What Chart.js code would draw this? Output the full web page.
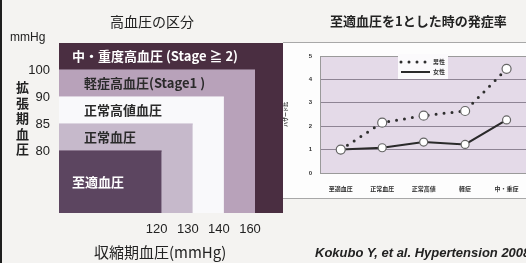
<!DOCTYPE html>
<html>
<head>
<meta charset="utf-8">
<script src="https://cdn.jsdelivr.net/npm/chart.js@4.4.0/dist/chart.umd.min.js"></script>
<style>
html, body { margin: 0; padding: 0; width: 526px; height: 263px; overflow: hidden; background: #f4f3f1; }
body { position: relative; font-family: "Noto Sans CJK JP", "Liberation Sans", sans-serif; color: #222; }
#edge { position: absolute; left: 0; top: 0; width: 2px; height: 263px; background: #1e1e1e; }
#bpChart { position: absolute; left: 0; top: 0; }
#panel { position: absolute; left: 283px; top: 42px; width: 260px; height: 155px; background: #fdfdfd; border-top: 1px solid #a8a8a8; border-bottom: 1px solid #a8a8a8; }
#riskChart { position: absolute; left: 283px; top: 42px; }
.t { position: absolute; white-space: nowrap; line-height: 1; }
#leftTitle { left: 110px; top: 14px; font-size: 14px; }
#rightTitle { left: 330px; top: 14px; font-size: 13px; font-weight: bold; }
#unit { left: 10px; top: 31px; font-size: 12px; font-family: "Liberation Sans", sans-serif; }
#yTitle { left: 16px; top: 79px; width: 14px; font-size: 13px; font-weight: bold; line-height: 15.5px; white-space: normal; }
#xTitle { left: 94px; top: 244px; font-size: 15px; }
#cite { left: 315px; top: 246px; font-size: 13px; font-weight: bold; font-style: italic; font-family: "Liberation Sans", sans-serif; }
</style>
</head>
<body>
<div id="edge"></div>
<canvas id="bpChart" width="283" height="263"></canvas>
<div id="panel"></div>
<canvas id="riskChart" width="250" height="156"></canvas>
<div class="t" id="leftTitle">高血圧の区分</div>
<div class="t" id="rightTitle">至適血圧を1とした時の発症率</div>
<div class="t" id="unit">mmHg</div>
<div class="t" id="yTitle">拡張期血圧</div>
<div class="t" id="xTitle">収縮期血圧(mmHg)</div>
<div class="t" id="cite">Kokubo Y, et al. Hypertension 2008</div>
<script>
// Left diagram: blood pressure classes
const sbpTicks = [120, 130, 140, 160];
const dbpTicks = [80, 85, 90, 100];
const bandNames = ['至適血圧', '正常血圧', '正常高値血圧', '軽症高血圧(Stage1 )', '中・重度高血圧 (Stage ≧ 2)'];

// Right chart: relative incidence (optimal = 1)
const categories = ['至適血圧', '正常血圧', '正常高値', '軽症', '中・重症'];
const maleRisk = [1.0, 2.15, 2.45, 2.65, 4.45];
const femaleRisk = [1.0, 1.08, 1.32, 1.22, 2.27];
const seriesNames = ['男性', '女性'];

Chart.defaults.font.family = "'Liberation Sans', 'Noto Sans CJK JP', sans-serif";
Chart.defaults.color = '#222';
Chart.defaults.animation = false;

const bandColors = ['#5c4560', '#c6b9cb', '#f9f9fb', '#b8a2ba', '#4a2e41'];
const bandTextColors = ['#fff', '#2a2a2a', '#2a2a2a', '#2a2a2a', '#fff'];
const bandTextIndent = [13, 25, 25, 25, 13];

// schematic axes: each cut value sits on its own step
const X_MIN = -2.3, X_MAX = 4.9, Y_MIN = -1.3, Y_MAX = 5;

const bandSets = bandNames.map((name, i) => {
    const right = i < sbpTicks.length ? i + 1 : X_MAX;
    const top = i < dbpTicks.length ? i + 1 : Y_MAX;
    return {
        label: name,
        data: [{ x: X_MIN, y: top }, { x: right, y: top }],
        borderColor: bandColors[i],
        backgroundColor: bandColors[i],
        borderWidth: 1,
        pointRadius: 0,
        fill: 'start'
    };
});

const bandLabels = {
    id: 'bandLabels',
    afterDatasetsDraw(chart) {
        const ctx = chart.ctx;
        const xs = chart.scales.x, ys = chart.scales.y;
        ctx.save();
        ctx.font = "bold 13px 'Noto Sans CJK JP', 'Liberation Sans', sans-serif";
        ctx.textBaseline = 'middle';
        bandNames.forEach((name, i) => {
            const top = i < dbpTicks.length ? i + 1 : Y_MAX;
            const below = i > 0 ? i : Y_MIN;
            const y = (ys.getPixelForValue(top) + ys.getPixelForValue(below)) / 2;
            ctx.fillStyle = bandTextColors[i];
            ctx.fillText(name, xs.getPixelForValue(X_MIN) + bandTextIndent[i], y);
        });
        ctx.restore();
    }
};

new Chart(document.getElementById('bpChart'), {
    type: 'line',
    data: { datasets: bandSets },
    options: {
        responsive: false,
        layout: { padding: { top: 43, left: 0, right: 0, bottom: 0 } },
        plugins: { legend: { display: false }, tooltip: { enabled: false } },
        scales: {
            x: {
                type: 'linear', min: X_MIN, max: X_MAX,
                grid: { display: false, drawTicks: false }, border: { display: false },
                afterBuildTicks: (s) => { s.ticks = sbpTicks.map((v, i) => ({ value: i + 1 })); },
                afterFit: (s) => { s.height = 50; },
                ticks: {
                    padding: 9, maxRotation: 0, autoSkip: false, labelOffset: -5,
                    font: { size: 13 }, color: '#222',
                    callback: (v) => sbpTicks[v - 1]
                }
            },
            y: {
                type: 'linear', min: Y_MIN, max: Y_MAX,
                grid: { display: false, drawTicks: false }, border: { display: false },
                afterBuildTicks: (s) => { s.ticks = dbpTicks.map((v, i) => ({ value: i + 1 })); },
                afterFit: (s) => { s.width = 59; },
                ticks: {
                    padding: 9, autoSkip: false,
                    font: { size: 13 }, color: '#222',
                    callback: (v) => dbpTicks[v - 1]
                }
            }
        }
    },
    plugins: [bandLabels]
});

// plot background, frame and a small legend inside the plot
const plotDecor = {
    id: 'plotDecor',
    beforeDraw(chart) {
        const a = chart.chartArea, ctx = chart.ctx;
        ctx.save();
        ctx.fillStyle = '#e4dae8';
        ctx.fillRect(a.left, a.top, a.right - a.left, a.bottom - a.top);
        ctx.restore();
    },
    afterDraw(chart) {
        const a = chart.chartArea, ctx = chart.ctx;
        ctx.save();
        ctx.strokeStyle = '#9a9a9a';
        ctx.lineWidth = 1;
        ctx.strokeRect(a.left + 0.5, a.top + 0.5, a.right - a.left, a.bottom - a.top);
        const lx = 115, ly = 12;
        ctx.fillStyle = '#fbfafc';
        ctx.fillRect(lx, ly, 50, 25);
        ctx.font = "bold 6px 'Noto Sans CJK JP', sans-serif";
        ctx.textBaseline = 'middle';
        chart.data.datasets.forEach((ds, i) => {
            const y = ly + 8 + i * 10;
            ctx.strokeStyle = ds.borderColor;
            ctx.lineWidth = ds.borderWidth;
            ctx.lineCap = ds.borderCapStyle || 'butt';
            ctx.setLineDash(ds.borderDash || []);
            ctx.beginPath();
            ctx.moveTo(lx + 3, y);
            ctx.lineTo(lx + 32, y);
            ctx.stroke();
            ctx.setLineDash([]);
            ctx.fillStyle = '#333';
            ctx.fillText(ds.label, lx + 35, y);
        });
        ctx.restore();
    }
};

new Chart(document.getElementById('riskChart'), {
    type: 'line',
    data: {
        labels: categories,
        datasets: [
            {
                label: seriesNames[0], data: maleRisk,
                borderColor: '#2e2e2e', borderWidth: 3, borderDash: [0, 8], borderCapStyle: 'round',
                pointRadius: 4.5, pointBackgroundColor: '#fff', pointBorderColor: '#666', pointBorderWidth: 1.2,
                tension: 0
            },
            {
                label: seriesNames[1], data: femaleRisk,
                borderColor: '#2a2a2a', borderWidth: 2,
                pointRadius: 4, pointBackgroundColor: '#fff', pointBorderColor: '#666', pointBorderWidth: 1.2,
                tension: 0
            }
        ]
    },
    options: {
        responsive: false,
        layout: { padding: { top: 14, right: 3, bottom: 0, left: 0 } },
        plugins: { legend: { display: false }, tooltip: { enabled: false } },
        scales: {
            x: {
                offset: true,
                grid: { display: false }, border: { display: false },
                afterFit: (s) => { s.height = 25; },
                ticks: { padding: 5, maxRotation: 0, autoSkip: false, font: { size: 6, weight: 'bold' }, color: '#333' }
            },
            y: {
                min: 0, max: 5,
                grid: { color: '#8e8494', drawTicks: false }, border: { display: false },
                afterFit: (s) => { s.width = 37; },
                title: { display: true, text: 'ハザード比', font: { size: 5, weight: 'bold' }, color: '#333', padding: 0 },
                ticks: { stepSize: 1, padding: 8, font: { size: 6, weight: 'bold' }, color: '#333' }
            }
        }
    },
    plugins: [plotDecor]
});
</script>
</body>
</html>
